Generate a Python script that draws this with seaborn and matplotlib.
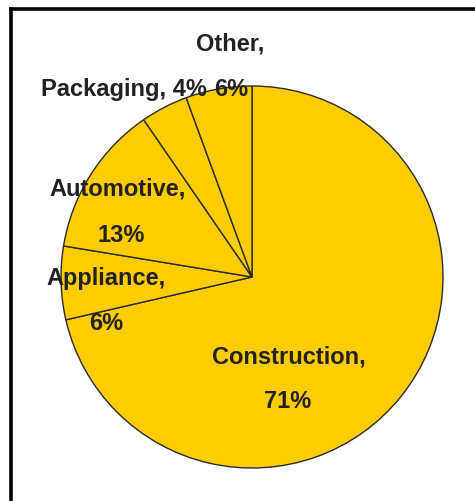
import matplotlib
matplotlib.use("Agg")
import matplotlib.pyplot as plt
import seaborn as sns
from matplotlib.lines import Line2D

categories = ["Construction", "Appliance", "Automotive", "Packaging", "Other"]
shares = [71.4, 6.2, 12.8, 4.0, 5.6]

sns.set_theme(style="white")
plt.rcParams['font.family'] = ['Liberation Sans', 'DejaVu Sans']

W, H = 475, 501
fig = plt.figure(figsize=(W / 100, H / 100), dpi=100)
fig.patch.set_facecolor("white")
ax = fig.add_axes([0, 0, 1, 1])
ax.set_xlim(0, W)
ax.set_ylim(H, 0)
ax.set_aspect("equal")
ax.axis("off")

# pie in pixel coordinates (y downward => clockwise visually when counterclock=True)
wedges, _ = ax.pie(shares, colors=["#FFCC00"] * len(shares), startangle=-90,
                   counterclock=True, center=(252, 277), radius=191,
                   wedgeprops=dict(edgecolor="#2a2a2a", linewidth=1.0))
ax.set_xlim(0, W)
ax.set_ylim(H, 0)

txt = dict(fontsize=17, fontweight="bold", color="#222222", ha="center", va="center")
label_pos = {
    "Construction": [(289, 357), (288, 401)],
    "Appliance": [(106, 279), (106, 324)],
    "Automotive": [(118, 189), (121, 235)],
    "Other": [(230, 44), (231, 89)],
}
for cat, val in zip(categories, shares):
    pct = f"{val:.0f}%"
    if cat == "Packaging":
        ax.text(124, 89, f"{cat}, {pct}", **txt)
    else:
        (x1, y1), (x2, y2) = label_pos[cat]
        ax.text(x1, y1, f"{cat},", **txt)
        ax.text(x2, y2, pct, **txt)

# frame lines (left and top)
fig.add_artist(Line2D([10.5 / W, 10.5 / W], [0, 1 - 8.5 / H], transform=fig.transFigure,
                      color="black", linewidth=2.6, solid_capstyle="projecting"))
fig.add_artist(Line2D([10.5 / W, 1], [1 - 8.5 / H, 1 - 8.5 / H], transform=fig.transFigure,
                      color="black", linewidth=2.6, solid_capstyle="projecting"))

fig.savefig("out.png", dpi=100, facecolor="white")
